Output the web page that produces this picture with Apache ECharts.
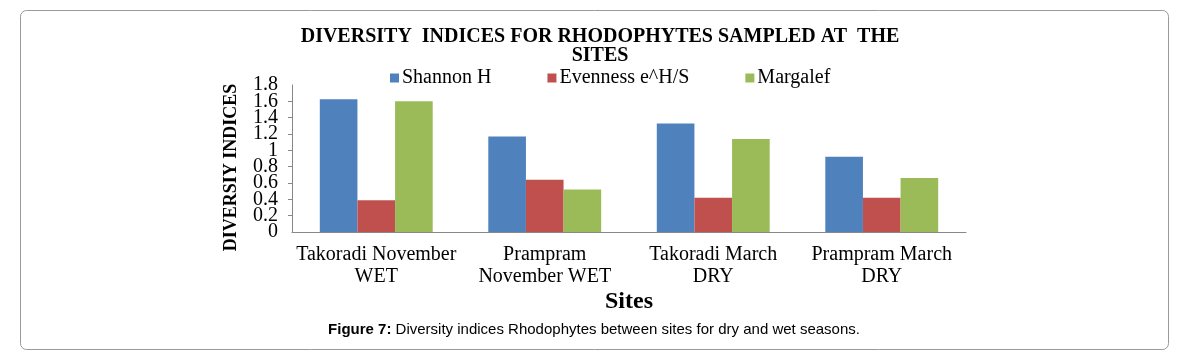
<!DOCTYPE html>
<html>
<head>
<meta charset="utf-8">
<script src="https://cdn.jsdelivr.net/npm/echarts@6/dist/echarts.min.js"></script>
<style>
  html, body { margin: 0; padding: 0; background: #fff; }
  #chart { width: 1185px; height: 362px; }
</style>
</head>
<body>
<div id="chart"></div>
<script>
var sites = ['Takoradi November\nWET', 'Prampram\nNovember WET', 'Takoradi March\nDRY', 'Prampram March\nDRY'];
var shannon = [1.625, 1.17, 1.33, 0.92];
var evenness = [0.39, 0.64, 0.42, 0.42];
var margalef = [1.6, 0.52, 1.14, 0.66];
var yTicks = [0, 0.2, 0.4, 0.6, 0.8, 1, 1.2, 1.4, 1.6, 1.8];

var serif = '"Liberation Serif", "DejaVu Serif", serif';
var myChart = echarts.init(document.getElementById('chart'));

function tickText(v) {
    var t = yTicks.find(function (x) { return Math.abs(x - v) < 1e-6; });
    return t === undefined ? '' : String(t);
}

// labels are taller than the tick spacing, so the end labels sit on a second axis
var labelStyle = { fontFamily: serif, fontSize: 20, color: '#000', margin: 14 };

var option = {
    animation: false,
    color: ['#4f81bd', '#c0504d', '#9bbb59'],
    title: {
        text: 'DIVERSITY  INDICES FOR RHODOPHYTES SAMPLED AT  THE\nSITES',
        left: 595,
        top: 22,
        textAlign: 'center',
        textStyle: {
            fontFamily: serif,
            fontWeight: 'bold',
            fontSize: 20,
            lineHeight: 19,
            color: '#000'
        }
    },
    legend: {
        top: 63,
        left: 385,
        itemWidth: 9,
        itemHeight: 9,
        itemGap: 56,
        icon: 'rect',
        textStyle: { fontFamily: serif, fontSize: 20, color: '#000', padding: [0, 0, 0, -2] },
        data: ['Shannon H', 'Evenness e^H/S', 'Margalef']
    },
    grid: {
        left: 292,
        right: 219,
        top: 85,
        bottom: 130
    },
    xAxis: {
        type: 'category',
        data: sites,
        name: 'Sites',
        nameLocation: 'middle',
        nameGap: 58,
        nameTextStyle: { fontFamily: serif, fontWeight: 'bold', fontSize: 24, color: '#000' },
        axisLine: { lineStyle: { color: '#888', width: 1 } },
        axisTick: { show: false },
        axisLabel: { fontFamily: serif, fontSize: 20, color: '#000', lineHeight: 22, margin: 12, interval: 0 }
    },
    yAxis: [
        {
            type: 'value',
            position: 'left',
            min: 0,
            max: 1.8,
            interval: 0.2,
            name: 'DIVERSIY INDICES',
            nameLocation: 'middle',
            nameGap: 52,
            nameTextStyle: { fontFamily: serif, fontWeight: 'bold', fontSize: 18, color: '#000', padding: [0, 18, 0, 0] },
            axisLine: { show: true, lineStyle: { color: '#888', width: 1 } },
            axisTick: { show: true, length: 4, lineStyle: { color: '#888' } },
            splitLine: { show: false },
            axisLabel: Object.assign({ showMinLabel: false, showMaxLabel: false, formatter: tickText }, labelStyle)
        },
        {
            type: 'value',
            position: 'left',
            offset: 0,
            min: 0,
            max: 1.8,
            interval: 0.2,
            axisLine: { show: false },
            axisTick: { show: false },
            splitLine: { show: false },
            axisLabel: Object.assign({
                showMinLabel: true, showMaxLabel: true,
                formatter: function (v) {
                    return (Math.abs(v) < 1e-6 || Math.abs(v - 1.8) < 1e-6) ? tickText(v) : '';
                }
            }, labelStyle)
        }
    ],
    graphic: [
        {
            type: 'rect',
            shape: { x: 20.5, y: 10.5, width: 1148, height: 339, r: 6 },
            style: { fill: 'none', stroke: '#999', lineWidth: 1 },
            silent: true
        },
        {
            type: 'text',
            x: 594,
            y: 330,
            style: {
                text: '{b|Figure 7:} Diversity indices Rhodophytes between sites for dry and wet seasons.',
                align: 'center',
                verticalAlign: 'middle',
                font: '15px "Liberation Sans", Arial, sans-serif',
                fill: '#000',
                rich: {
                    b: { fontWeight: 'bold', fontSize: 15, fontFamily: '"Liberation Sans", Arial, sans-serif' }
                }
            }
        }
    ],
    series: [
        { name: 'Shannon H', type: 'bar', data: shannon, barGap: '0%', barCategoryGap: '33%' },
        { name: 'Evenness e^H/S', type: 'bar', data: evenness, barGap: '0%', barCategoryGap: '33%' },
        { name: 'Margalef', type: 'bar', data: margalef, barGap: '0%', barCategoryGap: '33%' }
    ]
};

myChart.setOption(option);
</script>
</body>
</html>
